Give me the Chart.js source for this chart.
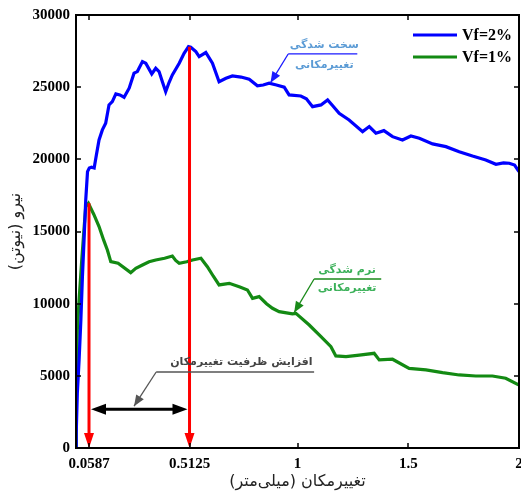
<!DOCTYPE html>
<html>
<head>
<meta charset="utf-8">
<script src="https://cdn.jsdelivr.net/npm/chart.js@4.4.1/dist/chart.umd.min.js"></script>
<style>
  html, body { margin: 0; padding: 0; background: #fff; }
</style>
</head>
<body>
<canvas id="Chart" width="521" height="491"></canvas>
<script>
// ---- data ----
var blueX = [0, 0.001, 0.006, 0.014, 0.022, 0.029, 0.037, 0.044, 0.052, 0.060, 0.070, 0.082, 0.092, 0.104, 0.119, 0.134, 0.149, 0.164, 0.180, 0.198, 0.217, 0.240, 0.262, 0.277, 0.300, 0.315, 0.342, 0.360, 0.375, 0.390, 0.405, 0.420, 0.435, 0.466, 0.488, 0.508, 0.518, 0.541, 0.556, 0.586, 0.616, 0.646, 0.677, 0.706, 0.745, 0.782, 0.819, 0.845, 0.872, 0.905, 0.940, 0.962, 1.015, 1.040, 1.068, 1.106, 1.136, 1.160, 1.188, 1.233, 1.294, 1.324, 1.354, 1.390, 1.429, 1.474, 1.512, 1.550, 1.610, 1.670, 1.730, 1.790, 1.850, 1.896, 1.930, 1.956, 1.980, 2.0];
var blueY = [100, 1040, 3800, 6100, 8870, 11870, 14640, 17190, 19150, 19400, 19450, 19400, 20300, 21340, 22040, 22500, 23770, 24000, 24530, 24460, 24300, 24930, 25970, 26080, 26770, 26660, 25920, 26310, 26080, 25380, 24690, 25320, 25850, 26660, 27350, 27810, 27770, 27460, 27120, 27400, 26660, 25380, 25620, 25780, 25700, 25550, 25090, 25150, 25270, 25150, 25000, 24460, 24390, 24200, 23650, 23770, 24120, 23700, 23190, 22730, 21920, 22270, 21810, 21990, 21570, 21340, 21620, 21460, 21070, 20880, 20530, 20230, 19960, 19660, 19750, 19730, 19600, 19150];

var greenX = [0, 0.001, 0.006, 0.014, 0.026, 0.037, 0.044, 0.056, 0.080, 0.104, 0.125, 0.142, 0.157, 0.190, 0.247, 0.270, 0.300, 0.330, 0.360, 0.400, 0.435, 0.450, 0.466, 0.500, 0.526, 0.564, 0.593, 0.620, 0.646, 0.692, 0.740, 0.774, 0.797, 0.827, 0.860, 0.887, 0.917, 0.977, 0.993, 1.053, 1.106, 1.151, 1.173, 1.219, 1.279, 1.346, 1.369, 1.429, 1.504, 1.580, 1.655, 1.730, 1.805, 1.880, 1.940, 1.998];
var greenY = [0, 3790, 8180, 10260, 13030, 15340, 16720, 16960, 16200, 15340, 14400, 13700, 12910, 12800, 12150, 12450, 12680, 12900, 13030, 13150, 13300, 13000, 12800, 12900, 13030, 13150, 12560, 11900, 11300, 11410, 11150, 10950, 10370, 10490, 10000, 9680, 9450, 9290, 9330, 8520, 7710, 7020, 6380, 6330, 6440, 6560, 6100, 6150, 5520, 5410, 5220, 5060, 4990, 4990, 4830, 4370];

var seriesNames = ['Vf=2%', 'Vf=1%'];
var xTicks = [0.0587, 0.5125, 1, 1.5, 2];
var xTickLabels = ['0.0587', '0.5125', '1', '1.5', '2'];
var yTicks = [0, 5000, 10000, 15000, 20000, 25000, 30000];

// red markers: displacement at peak load of each series
var markX = [0.0587, 0.5125];
var markTop = [16960, 27800];
// black double arrow (increase in displacement capacity)
var spanY = 2680;

var xTitle = 'تغییرمکان (میلی‌متر)\u200F';
var yTitle = 'نیرو (نیوتن)\u200F';

function pts(xs, ys) {
  var out = [];
  for (var i = 0; i < xs.length; i++) out.push({x: xs[i], y: ys[i]});
  return out;
}

function arrowHead(ctx, x1, y1, x2, y2, len, half, color) {
  var ang = Math.atan2(y2 - y1, x2 - x1);
  ctx.save();
  ctx.fillStyle = color;
  ctx.beginPath();
  ctx.moveTo(x2, y2);
  ctx.lineTo(x2 - len * Math.cos(ang) + half * Math.sin(ang), y2 - len * Math.sin(ang) - half * Math.cos(ang));
  ctx.lineTo(x2 - len * Math.cos(ang) - half * Math.sin(ang), y2 - len * Math.sin(ang) + half * Math.cos(ang));
  ctx.closePath();
  ctx.fill();
  ctx.restore();
}

function line(ctx, x1, y1, x2, y2, w, color) {
  ctx.save();
  ctx.strokeStyle = color;
  ctx.lineWidth = w;
  ctx.beginPath();
  ctx.moveTo(x1, y1);
  ctx.lineTo(x2, y2);
  ctx.stroke();
  ctx.restore();
}

// callout: text lines, underline and a leader arrow, all in data units
function callout(ctx, xs, ys, c) {
  var ux1 = xs.getPixelForValue(c.under[0]), ux2 = xs.getPixelForValue(c.under[1]);
  var uy = ys.getPixelForValue(c.underY);
  var tx = xs.getPixelForValue(c.tip[0]), ty = ys.getPixelForValue(c.tip[1]);
  line(ctx, ux1, uy, ux2, uy, 1.3, c.lineColor);
  line(ctx, ux1, uy, tx, ty, 1.3, c.lineColor);
  arrowHead(ctx, ux1, uy, tx, ty, 11, 4.5, c.lineColor);
  ctx.save();
  ctx.fillStyle = c.textColor;
  ctx.font = 'bold ' + c.size + 'px "DejaVu Sans"';
  ctx.textAlign = c.align || 'center';
  ctx.textBaseline = 'middle';
  ctx.direction = 'rtl';
  for (var i = 0; i < c.text.length; i++) {
    ctx.fillText(c.text[i][0], xs.getPixelForValue(c.text[i][1]), ys.getPixelForValue(c.text[i][2]));
  }
  ctx.restore();
}

var decor = {
  id: 'decor',
  afterDatasetsDraw: function(chart) {
    var ctx = chart.ctx, xs = chart.scales.x, ys = chart.scales.y;
    var y0 = ys.getPixelForValue(0);

    // red vertical arrows
    for (var i = 0; i < markX.length; i++) {
      var px = xs.getPixelForValue(markX[i]);
      var top = ys.getPixelForValue(markTop[i]);
      line(ctx, px, top, px, y0 - 12, 3, '#ff0000');
      arrowHead(ctx, px, top, px, y0, 15, 5, '#ff0000');
    }

    // black double arrow between the markers
    var ax1 = xs.getPixelForValue(markX[0]) + 2, ax2 = xs.getPixelForValue(markX[1]) - 2;
    var ay = ys.getPixelForValue(spanY);
    line(ctx, ax1 + 10, ay, ax2 - 10, ay, 3, '#000');
    arrowHead(ctx, ax2, ay, ax1, ay, 15, 5.5, '#000');
    arrowHead(ctx, ax1, ay, ax2, ay, 15, 5.5, '#000');

    callout(ctx, xs, ys, {
      under: [0.362, 1.075], underY: 5267, tip: [0.262, 2900],
      lineColor: '#555', textColor: '#444', size: 11, align: 'right',
      text: [['افزایش ظرفیت تغییرمکان', 1.068, 5980]]
    });
    callout(ctx, xs, ys, {
      under: [0.958, 1.270], underY: 27300, tip: [0.878, 25300],
      lineColor: '#1a1aff', textColor: '#5b9bd5', size: 11,
      text: [['سخت شدگی', 1.121, 27930], ['تغییرمکانی', 1.121, 26540]]
    });
    callout(ctx, xs, ys, {
      under: [1.075, 1.378], underY: 11710, tip: [0.985, 9380],
      lineColor: '#1a8a1a', textColor: '#3cb15a', size: 11,
      text: [['نرم شدگی', 1.224, 12340], ['تغییرمکانی', 1.224, 11090]]
    });
  },
  afterDraw: function(chart) {
    var ctx = chart.ctx, a = chart.chartArea, xs = chart.scales.x, ys = chart.scales.y;
    ctx.save();
    ctx.strokeStyle = '#000';
    ctx.lineWidth = 2;
    ctx.strokeRect(a.left, a.top, a.right - a.left, a.bottom - a.top);
    ctx.lineWidth = 1.5;
    ctx.beginPath();
    xs.ticks.forEach(function(t) {
      var p = Math.round(xs.getPixelForValue(t.value));
      if (p <= a.left + 2 || p >= a.right - 2) return;
      ctx.moveTo(p, a.bottom); ctx.lineTo(p, a.bottom - 5);
      ctx.moveTo(p, a.top); ctx.lineTo(p, a.top + 5);
    });
    ys.ticks.forEach(function(t) {
      var p = Math.round(ys.getPixelForValue(t.value));
      if (p <= a.top + 2 || p >= a.bottom - 2) return;
      ctx.moveTo(a.left, p); ctx.lineTo(a.left + 5, p);
      ctx.moveTo(a.right, p); ctx.lineTo(a.right - 5, p);
    });
    ctx.stroke();

    // legend
    var ds = chart.data.datasets;
    ctx.font = 'bold 16px "Liberation Serif"';
    ctx.textBaseline = 'middle';
    ctx.textAlign = 'left';
    for (var i = 0; i < ds.length; i++) {
      var ly = 35 + i * 22;
      ctx.strokeStyle = ds[i].borderColor;
      ctx.lineWidth = 3;
      ctx.beginPath();
      ctx.moveTo(413, ly); ctx.lineTo(457, ly);
      ctx.stroke();
      ctx.fillStyle = '#000';
      ctx.fillText(ds[i].label, 462, ly + 1);
    }
    ctx.restore();
  }
};

var ctx = document.getElementById('Chart').getContext('2d');
var chart = new Chart(ctx, {
  type: 'scatter',
  data: {
    datasets: [{
      label: seriesNames[0],
      data: pts(blueX, blueY),
      showLine: true,
      borderColor: '#0000ff',
      borderWidth: 3.2,
      pointRadius: 0,
      tension: 0
    }, {
      label: seriesNames[1],
      data: pts(greenX, greenY),
      showLine: true,
      borderColor: '#138a13',
      borderWidth: 3.2,
      pointRadius: 0,
      tension: 0
    }]
  },
  options: {
    responsive: false,
    animation: false,
    layout: { padding: { top: 15, right: 2, left: 0, bottom: 0 } },
    plugins: { legend: { display: false }, tooltip: { enabled: false } },
    scales: {
      x: {
        type: 'linear',
        min: 0,
        max: 2,
        afterBuildTicks: function(scale) {
          scale.ticks = xTicks.map(function(v) { return {value: v}; });
        },
        afterFit: function(scale) {
          scale.height = 43;
          scale.paddingLeft = 0;
          scale.paddingRight = 0;
        },
        grid: { display: false, drawTicks: false },
        border: { display: false },
        ticks: {
          autoSkip: false,
          maxRotation: 0,
          padding: 7,
          color: '#000',
          font: { family: 'Liberation Serif', size: 15, weight: 'bold' },
          callback: function(v) {
            var i = xTicks.indexOf(v);
            return i >= 0 ? xTickLabels[i] : '';
          }
        },
        title: {
          display: true,
          text: xTitle,
          color: '#222',
          padding: 0,
          font: { family: 'DejaVu Sans', size: 16 }
        }
      },
      y: {
        min: 0,
        max: 30000,
        afterBuildTicks: function(scale) {
          scale.ticks = yTicks.map(function(v) { return {value: v}; });
        },
        afterFit: function(scale) {
          scale.width = 76;
          scale.paddingTop = 0;
          scale.paddingBottom = 0;
        },
        grid: { display: false, drawTicks: false },
        border: { display: false },
        ticks: {
          padding: 6,
          color: '#000',
          font: { family: 'Liberation Serif', size: 15, weight: 'bold' },
          callback: function(v) { return String(v); }
        },
        title: {
          display: true,
          text: yTitle,
          color: '#222',
          padding: 6,
          font: { family: 'DejaVu Sans', size: 16 }
        }
      }
    }
  },
  plugins: [decor]
});
</script>
</body>
</html>
